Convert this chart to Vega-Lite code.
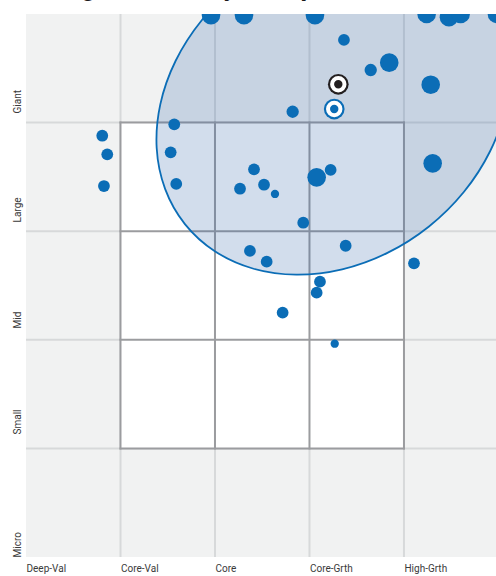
{
  "$schema": "https://vega.github.io/schema/vega-lite/v6.json",
  "autosize": {"type": "none"},
  "width": 470,
  "height": 543,
  "padding": {"left": 26, "top": 14, "right": 0, "bottom": 19},
  "background": "white",
  "title": {
    "text": "Holdings-Based Style Map",
    "anchor": "start",
    "font": "Roboto",
    "fontSize": 26,
    "fontWeight": "bold",
    "color": "#1a1a1a",
    "offset": 0,
    "dx": -7,
    "dy": -13.5
  },
  "config": {
    "view": {"fill": "#f1f2f2", "stroke": null},
    "axis": {"labelFont": "Roboto", "labelFontSize": 10, "labelColor": "#3a3a3a", "ticks": false, "domain": false, "grid": false, "title": null}
  },
  "datasets": {
    "grid": [
      {"x": 1, "x2": 1, "y": 0, "y2": 5}, {"x": 2, "x2": 2, "y": 0, "y2": 5},
      {"x": 3, "x2": 3, "y": 0, "y2": 5}, {"x": 4, "x2": 4, "y": 0, "y2": 5},
      {"x": 0, "x2": 5, "y": 1, "y2": 1}, {"x": 0, "x2": 5, "y": 2, "y2": 2},
      {"x": 0, "x2": 5, "y": 3, "y2": 3}, {"x": 0, "x2": 5, "y": 4, "y2": 4}
    ],
    "box": [{"x": 1, "x2": 4, "y": 1, "y2": 4}],
    "boxlines": [
      {"x": 1, "x2": 1, "y": 1, "y2": 4}, {"x": 2, "x2": 2, "y": 1, "y2": 4},
      {"x": 3, "x2": 3, "y": 1, "y2": 4}, {"x": 4, "x2": 4, "y": 1, "y2": 4},
      {"x": 1, "x2": 4, "y": 1, "y2": 1}, {"x": 1, "x2": 4, "y": 2, "y2": 2},
      {"x": 1, "x2": 4, "y": 3, "y2": 3}, {"x": 1, "x2": 4, "y": 4, "y2": 4}
    ],
    "zone": [
      {"i": 1, "x": 4.8133, "y": 5.2403},
      {"i": 2, "x": 5.0233, "y": 4.9161},
      {"i": 3, "x": 5.1123, "y": 4.5401},
      {"i": 4, "x": 5.074, "y": 4.1376},
      {"i": 5, "x": 4.9114, "y": 3.7362},
      {"i": 6, "x": 4.6354, "y": 3.3631},
      {"i": 7, "x": 4.2649, "y": 3.0438},
      {"i": 8, "x": 3.825, "y": 2.8003},
      {"i": 9, "x": 3.3457, "y": 2.6487},
      {"i": 10, "x": 2.8598, "y": 2.5998},
      {"i": 11, "x": 2.4003, "y": 2.6566},
      {"i": 12, "x": 1.9985, "y": 2.8156},
      {"i": 13, "x": 1.6819, "y": 3.0655},
      {"i": 14, "x": 1.472, "y": 3.3896},
      {"i": 15, "x": 1.383, "y": 3.7657},
      {"i": 16, "x": 1.4213, "y": 4.1681},
      {"i": 17, "x": 1.5838, "y": 4.5695},
      {"i": 18, "x": 1.8599, "y": 4.9426},
      {"i": 19, "x": 2.2304, "y": 5.2619},
      {"i": 20, "x": 2.6703, "y": 5.5054},
      {"i": 21, "x": 3.1495, "y": 5.657},
      {"i": 22, "x": 3.6354, "y": 5.7059},
      {"i": 23, "x": 4.0949, "y": 5.6491},
      {"i": 24, "x": 4.4967, "y": 5.4902}
    ],
    "holdings": [
      {"x": 1.958, "y": 4.99, "weight": 5},
      {"x": 2.307, "y": 4.99, "weight": 5},
      {"x": 3.058, "y": 4.99, "weight": 5},
      {"x": 4.24, "y": 5.0, "weight": 5},
      {"x": 4.476, "y": 4.97, "weight": 5},
      {"x": 4.6, "y": 5.0, "weight": 5},
      {"x": 4.984, "y": 5.0, "weight": 5},
      {"x": 3.365, "y": 4.761, "weight": 2},
      {"x": 3.648, "y": 4.484, "weight": 2.2},
      {"x": 3.844, "y": 4.552, "weight": 5},
      {"x": 4.283, "y": 4.349, "weight": 5},
      {"x": 4.304, "y": 3.625, "weight": 5},
      {"x": 2.822, "y": 4.1, "weight": 2.2},
      {"x": 1.569, "y": 3.984, "weight": 2},
      {"x": 0.807, "y": 3.879, "weight": 2},
      {"x": 0.86, "y": 3.708, "weight": 2},
      {"x": 0.825, "y": 3.416, "weight": 2},
      {"x": 1.531, "y": 3.726, "weight": 2},
      {"x": 1.59, "y": 3.435, "weight": 2},
      {"x": 2.413, "y": 3.57, "weight": 2},
      {"x": 2.265, "y": 3.391, "weight": 2},
      {"x": 2.519, "y": 3.428, "weight": 2},
      {"x": 2.635, "y": 3.343, "weight": 1},
      {"x": 3.076, "y": 3.496, "weight": 5},
      {"x": 3.224, "y": 3.564, "weight": 2},
      {"x": 2.934, "y": 3.078, "weight": 2},
      {"x": 3.383, "y": 2.866, "weight": 2},
      {"x": 2.37, "y": 2.818, "weight": 2},
      {"x": 2.547, "y": 2.719, "weight": 2},
      {"x": 4.106, "y": 2.704, "weight": 2},
      {"x": 3.111, "y": 2.535, "weight": 2},
      {"x": 3.076, "y": 2.434, "weight": 2},
      {"x": 2.716, "y": 2.25, "weight": 2},
      {"x": 3.267, "y": 1.964, "weight": 1}
    ],
    "centroids": [
      {"name": "Fund", "x": 3.305, "y": 4.353},
      {"name": "Category", "x": 3.262, "y": 4.125}
    ]
  },
  "encoding": {
    "x": {
      "field": "x", "type": "quantitative",
      "scale": {"domain": [0, 4.974], "nice": false, "zero": false},
      "axis": {
        "values": [0, 1, 2, 3, 4],
        "labelAlign": "left", "labelBaseline": "top", "labelPadding": 6,
        "labelOverlap": false, "labelFlush": false,
        "labelExpr": "datum.value < 0.5 ? 'Deep-Val' : datum.value < 1.5 ? 'Core-Val' : datum.value < 2.5 ? 'Core' : datum.value < 3.5 ? 'Core-Grth' : 'High-Grth'"
      }
    },
    "y": {
      "field": "y", "type": "quantitative",
      "scale": {"domain": [0, 5], "nice": false, "zero": false},
      "axis": {
        "values": [0, 1.133, 2.109, 3.085, 4.088],
        "labelAngle": 270, "labelAlign": "left", "labelBaseline": "alphabetic", "labelPadding": 6,
        "labelOverlap": false, "labelFlush": false,
        "labelExpr": "datum.value < 0.5 ? 'Micro' : datum.value < 1.5 ? 'Small' : datum.value < 2.5 ? 'Mid' : datum.value < 3.5 ? 'Large' : 'Giant'"
      }
    }
  },
  "layer": [
    {
      "data": {"name": "grid"},
      "mark": {"type": "rule", "color": "#d7d9da", "strokeWidth": 2, "clip": true},
      "encoding": {"x2": {"field": "x2"}, "y2": {"field": "y2"}}
    },
    {
      "data": {"name": "box"},
      "mark": {"type": "rect", "fill": "#ffffff"},
      "encoding": {"x2": {"field": "x2"}, "y2": {"field": "y2"}}
    },
    {
      "data": {"name": "boxlines"},
      "mark": {"type": "rule", "color": "#9b9c9f", "strokeWidth": 2, "strokeCap": "square"},
      "encoding": {"x2": {"field": "x2"}, "y2": {"field": "y2"}}
    },
    {
      "data": {"name": "zone"},
      "mark": {"type": "line", "interpolate": "cardinal-closed", "fill": "#3366aa", "fillOpacity": 0.22, "stroke": "#0b6db6", "strokeWidth": 1.8, "clip": true},
      "encoding": {"order": {"field": "i", "type": "quantitative"}}
    },
    {
      "data": {"name": "holdings"},
      "mark": {"type": "circle", "color": "#0b6db6", "opacity": 1, "clip": true},
      "encoding": {
        "size": {"field": "weight", "type": "quantitative", "scale": {"domain": [1, 5], "range": [69, 346]}, "legend": null}
      }
    },
    {
      "data": {"name": "centroids"},
      "mark": {"type": "circle", "opacity": 1, "size": 430},
      "encoding": {
        "color": {"field": "name", "type": "nominal", "scale": {"domain": ["Fund", "Category"], "range": ["#231f20", "#0b6db6"]}, "legend": null}
      }
    },
    {
      "data": {"name": "centroids"},
      "mark": {"type": "point", "shape": "circle", "filled": true, "opacity": 1, "size": 154, "stroke": "#ffffff", "strokeWidth": 4},
      "encoding": {
        "fill": {"field": "name", "type": "nominal", "scale": {"domain": ["Fund", "Category"], "range": ["#231f20", "#0b6db6"]}, "legend": null}
      }
    }
  ]
}
